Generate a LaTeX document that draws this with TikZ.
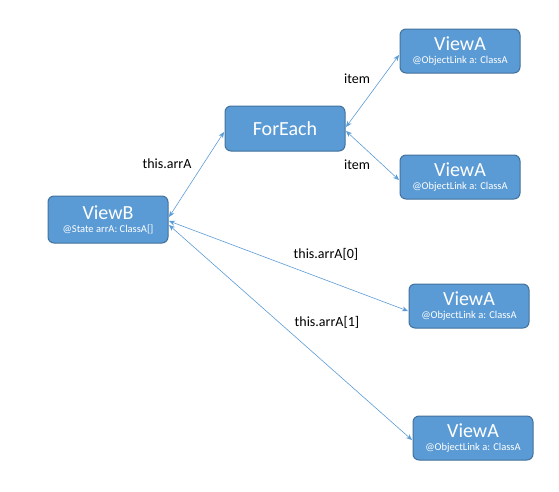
\documentclass[tikz,border=0pt]{standalone}
\usepackage{fontspec}
\setmainfont{Carlito}
\usetikzlibrary{arrows.meta}
\definecolor{boxfill}{HTML}{5B9BD5}
\definecolor{boxline}{HTML}{41719C}
\definecolor{conn}{HTML}{5B9BD5}
\begin{document}
\begin{tikzpicture}[x=1pt,y=-1pt,
  viewbox/.style={draw=boxline, fill=boxfill, line width=1pt, rounded corners=6pt,
    minimum width=120pt, inner sep=0pt, text=white, align=center},
  conn/.style={draw=conn, line width=0.6pt, {Stealth[length=6pt,width=5pt]}-{Stealth[length=6pt,width=5pt]}},
  lbl/.style={font=\fontsize{14}{16}\selectfont, text=black}]
\useasboundingbox (0,0) rectangle (559,491);
\newcommand{\ttl}[1]{{\fontsize{20}{22}\selectfont #1}}
\newcommand{\sub}[1]{{\fontsize{10.5}{12}\selectfont #1}}
\node[viewbox, minimum height=47pt] (vb) at (108,219.5) {\ttl{ViewB}\\[1pt]\sub{@State arrA: ClassA[]}};
\node[viewbox, minimum height=45pt] (fe) at (285,128.5) {\ttl{ForEach}};
\node[viewbox, minimum height=44pt] (a1) at (460,51) {\ttl{ViewA}\\[1pt]\sub{@ObjectLink a: ClassA}};
\node[viewbox, minimum height=44pt] (a2) at (460,177) {\ttl{ViewA}\\[1pt]\sub{@ObjectLink a: ClassA}};
\node[viewbox, minimum height=44pt] (a3) at (469,306) {\ttl{ViewA}\\[1pt]\sub{@ObjectLink a: ClassA}};
\node[viewbox, minimum height=44pt] (a4) at (473,438) {\ttl{ViewA}\\[1pt]\sub{@ObjectLink a: ClassA}};
\coordinate (vbA) at (169,217);
\coordinate (vbB) at (169,221);
\coordinate (vbC) at (169,225);
\coordinate (feL) at (224,132);
\coordinate (feR1) at (346,127);
\coordinate (feR2) at (346,131);
\coordinate (a1L) at (399,55);
\coordinate (a2L) at (399,180);
\coordinate (a3L) at (408,311);
\coordinate (a4L) at (412,440);
\draw[conn] (vbA) -- (feL);
\draw[conn] (feR1) -- (a1L);
\draw[conn] (feR2) -- (a2L);
\draw[conn] (vbB) -- (a3L);
\draw[conn] (vbC) -- (a4L);
\node[lbl] (l1) at (167,164) {this.arrA};
\node[lbl] (l2) at (357,79) {item};
\node[lbl] (l3) at (357,165) {item};
\node[lbl] (l4) at (326,254) {this.arrA[0]};
\node[lbl] (l5) at (327,322) {this.arrA[1]};
\end{tikzpicture}
\end{document}
